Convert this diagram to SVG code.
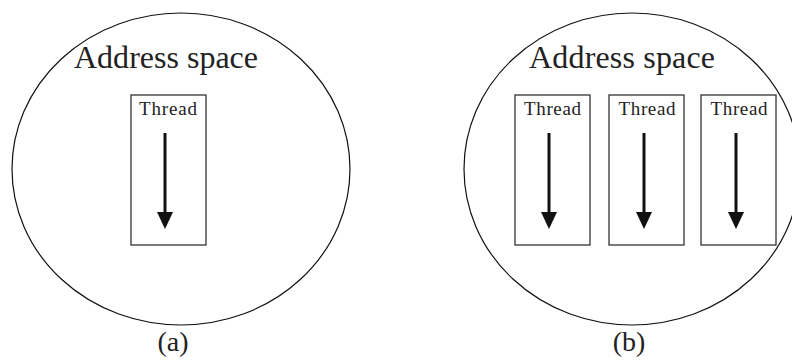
<svg xmlns="http://www.w3.org/2000/svg" width="792" height="360" viewBox="0 0 792 360">
<defs>
<style>
.space{fill:none;stroke:#111;stroke-width:1.2}
.box{fill:#fff;stroke:#333;stroke-width:1.3}
.big{font-family:"Liberation Serif",serif;font-size:32px;fill:#222}
.small{font-family:"Liberation Serif",serif;font-size:19px;fill:#222;text-anchor:middle}
.cap{font-family:"Liberation Serif",serif;font-size:28px;fill:#222;text-anchor:middle}
.flow{stroke:#111;stroke-width:3;fill:none}
.head{fill:#111}
</style>
</defs>
<rect width="792" height="360" fill="#fff"/>
<g id="space-a">
<ellipse class="space" cx="181" cy="169" rx="169" ry="156"/>
<text class="big" x="74" y="68" textLength="184">Address space</text>
</g>
<g id="space-b">
<ellipse class="space" cx="632" cy="169" rx="168" ry="156"/>
<text class="big" x="529" y="68" textLength="186">Address space</text>
</g>
<g id="thread-a">
<rect class="box" x="131" y="95" width="75" height="150"/>
<text class="small" x="168" y="115" textLength="58">Thread</text>
</g>
<g id="thread-b1">
<rect class="box" x="515" y="95" width="75" height="150"/>
<text class="small" x="552.5" y="115" textLength="57">Thread</text>
</g>
<g id="thread-b2">
<rect class="box" x="609" y="95" width="75" height="150"/>
<text class="small" x="647" y="115" textLength="57">Thread</text>
</g>
<g id="thread-b3">
<rect class="box" x="701" y="95" width="75" height="150"/>
<text class="small" x="739" y="115" textLength="57">Thread</text>
</g>
<g id="connectors">
<line class="flow" x1="165" y1="133" x2="165" y2="214"/>
<polygon class="head" points="157,212 173,212 165,229"/>
<line class="flow" x1="549" y1="133" x2="549" y2="214"/>
<polygon class="head" points="541,212 557,212 549,229"/>
<line class="flow" x1="644" y1="133" x2="644" y2="214"/>
<polygon class="head" points="636,212 652,212 644,229"/>
<line class="flow" x1="736" y1="133" x2="736" y2="214"/>
<polygon class="head" points="728,212 744,212 736,229"/>
</g>
<text class="cap" x="173" y="351">(a)</text>
<text class="cap" x="629" y="351">(b)</text>
</svg>
